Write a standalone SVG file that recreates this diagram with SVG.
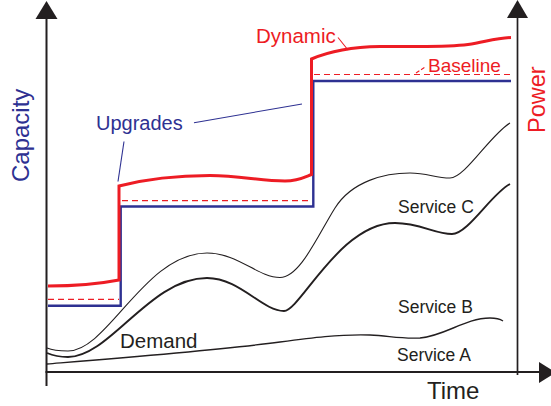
<svg xmlns="http://www.w3.org/2000/svg" width="551" height="406" viewBox="0 0 551 406">
  <defs>
    <style>
      .axis { stroke: #231f20; stroke-width: 2; fill: none; }
      .head { fill: #231f20; }
      .cap { stroke: #2e3192; stroke-width: 2.4; fill: none; stroke-linejoin: miter; }
      .dyn { stroke: #ed1c24; stroke-width: 3; fill: none; }
      .base { stroke: #ed1c24; stroke-width: 1.2; fill: none; stroke-dasharray: 6 4; }
      .svc { stroke: #231f20; fill: none; }
      .lead-blue { stroke: #2e3192; stroke-width: 1.1; fill: none; }
      .lead-red { stroke: #ed1c24; stroke-width: 1.1; fill: none; }
      text { font-family: "Liberation Sans", Arial, sans-serif; }
      .t-blue { fill: #2e3192; }
      .t-red { fill: #ed1c24; }
      .t-dark { fill: #231f20; }
    </style>
  </defs>
  <rect width="551" height="406" fill="#ffffff"/>

  <!-- axes -->
  <g id="axes">
    <line class="axis" x1="46.5" y1="15" x2="46.5" y2="386"/>
    <line class="axis" x1="45.5" y1="372" x2="541" y2="372"/>
    <line class="axis" x1="517.5" y1="14" x2="517.5" y2="375" style="stroke-width:1.7"/>
    <polygon class="head" points="35.5,19 46.5,1 57.5,19"/>
    <polygon class="head" points="507,18 517.5,0 528,18"/>
    <polygon class="head" points="539,362 556,372.5 539,383"/>
  </g>

  <!-- service demand curves -->
  <g id="service-a">
    <path class="svc" style="stroke-width:1.4" d="M47,364 C120,358 220,350 280,342 C310,338 340,334 370,335 C390,336 400,339 420,338 C445,336 465,318 490,318 C497,318 500,319 503,321"/>
  </g>
  <g id="service-b">
    <path class="svc" style="stroke-width:1.9" d="M47,353 C54,356 60,357 68,357 C110,357 150,278 207,278 C240,278 262,311 284,311 C300,311 340,223 395,223 C420,223 435,234 452,234 C468,234 492,193 510,184"/>
  </g>
  <g id="service-c">
    <path class="svc" style="stroke-width:1.1" d="M47,348 C54,351 60,351 68,351 C108,351 145,253 207,253 C238,253 258,277.5 280,277.5 C300,277.5 318,235 335,208 C352,181 385,173 410,173 C428,173 435,178 450,178 C465,178 490,135 510,123"/>
  </g>

  <!-- baseline power (dashed) -->
  <g id="baseline">
    <line class="base" x1="48" y1="299.3" x2="119" y2="299.3"/>
    <line class="base" x1="122" y1="200.7" x2="312" y2="200.7"/>
    <line class="base" x1="314" y1="74.5" x2="511" y2="74.5"/>
  </g>

  <!-- installed capacity steps -->
  <g id="capacity">
    <path class="cap" d="M48,305.8 L120.7,305.8 L120.7,206.5 L313.3,206.5 L313.3,81 L511,81"/>
  </g>

  <!-- dynamic power -->
  <g id="dynamic">
    <path class="dyn" d="M48,286 C72,286 96,284.5 119,280 L119,186 C150,178 180,175.5 210,175.5 C240,175.5 260,181 285,181 C298,181 305,177 311.5,174.5 L311.5,59 C330,51 352,47 380,46.5 C420,46 445,47.5 468,44.5 C485,42 495,38 511,37.5"/>
  </g>

  <!-- leader lines -->
  <g id="leaders">
    <line class="lead-blue" x1="124" y1="141.5" x2="118" y2="181.5"/>
    <line class="lead-blue" x1="194" y1="122.7" x2="302" y2="104"/>
    <line class="lead-red" x1="338" y1="37.5" x2="348" y2="50"/>
    <line class="lead-red" x1="416" y1="73" x2="426" y2="66.5" style="stroke-dasharray:4 2"/>
  </g>

  <!-- labels -->
  <g id="labels">
    <text class="t-red" x="256" y="43.3" font-size="20.5">Dynamic</text>
    <text class="t-red" x="428" y="71.7" font-size="19">Baseline</text>
    <text class="t-blue" x="96" y="130" font-size="20">Upgrades</text>
    <text class="t-dark" x="120" y="347.5" font-size="20.5">Demand</text>
    <text class="t-dark" x="398" y="213" font-size="17.5">Service C</text>
    <text class="t-dark" x="398" y="312.7" font-size="17.5">Service B</text>
    <text class="t-dark" x="397" y="361" font-size="17.5">Service A</text>
    <text class="t-dark" x="427" y="399" font-size="24">Time</text>
    <text class="t-blue" font-size="24" transform="translate(29,182) rotate(-90)">Capacity</text>
    <text class="t-red" font-size="23.5" transform="translate(545,133) rotate(-90)">Power</text>
  </g>
</svg>
